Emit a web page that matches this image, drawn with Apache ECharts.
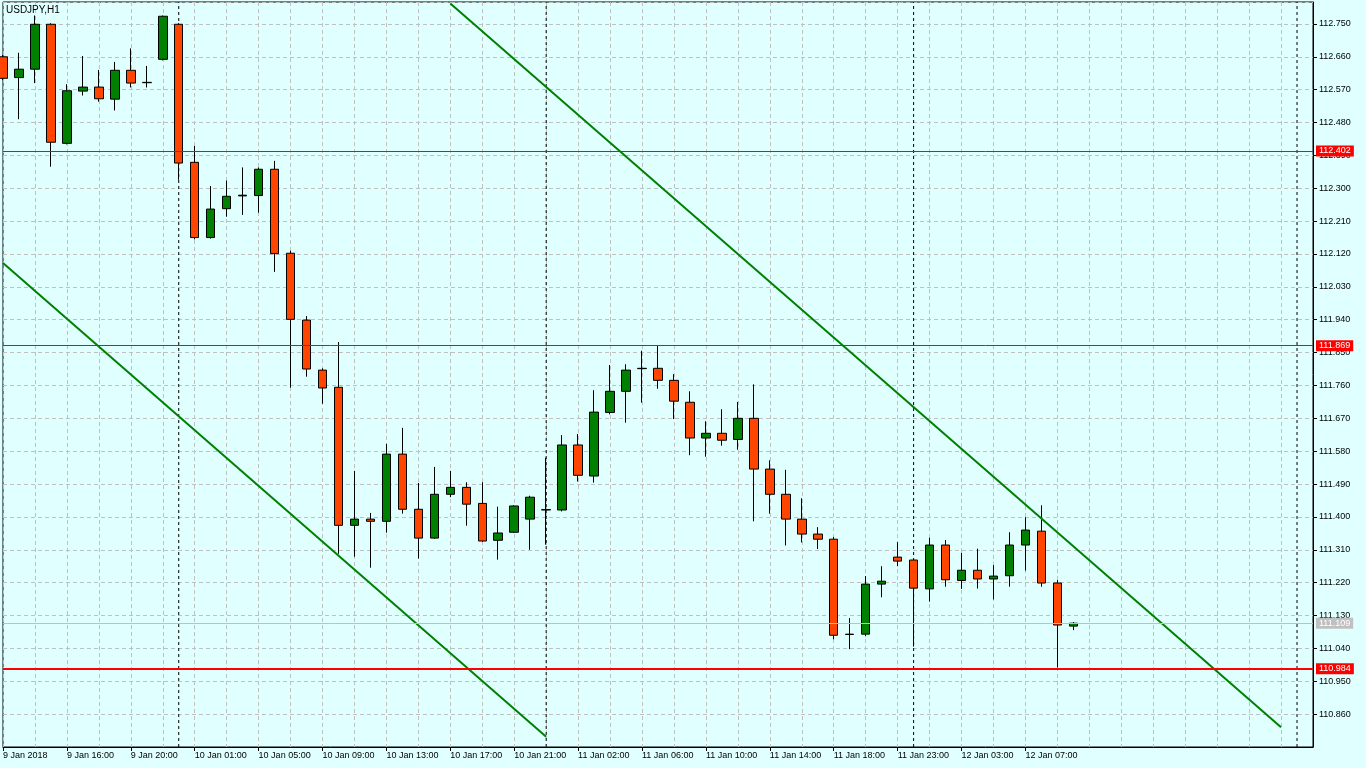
<!DOCTYPE html>
<html>
<head>
<meta charset="utf-8">
<script src="https://cdn.jsdelivr.net/npm/echarts@6.0.0/dist/echarts.min.js"></script>
<style>
html,body{margin:0;padding:0;background:#E0FFFF;}
#chart{width:1366px;height:768px;}
</style>
</head>
<body>
<div id="chart"></div>
<script>
// ---------- data ----------
const chartTitle = 'USDJPY,H1';
const tickLabels = ['9 Jan 2018','9 Jan 16:00','9 Jan 20:00','10 Jan 01:00','10 Jan 05:00','10 Jan 09:00','10 Jan 13:00','10 Jan 17:00','10 Jan 21:00','11 Jan 02:00','11 Jan 06:00','11 Jan 10:00','11 Jan 14:00','11 Jan 18:00','11 Jan 23:00','12 Jan 03:00','12 Jan 07:00'];
const barsPerTick = 4;
const totalSlots = 83; // visible bar slots incl. empty right margin
const opens = [112.660,112.603,112.626,112.749,112.423,112.566,112.577,112.544,112.623,112.590,
  112.653,112.749,112.371,112.165,112.244,112.279,112.280,112.352,112.122,111.939,
  111.802,111.755,111.377,111.394,111.388,111.572,111.421,111.342,111.462,111.481,
  111.437,111.336,111.358,111.394,111.420,111.419,111.597,111.512,111.686,111.744,
  111.806,111.807,111.774,111.714,111.616,111.629,111.612,111.670,111.531,111.462,
  111.394,111.353,111.339,111.078,111.079,111.216,111.290,111.282,111.203,111.323,
  111.226,111.254,111.230,111.239,111.323,111.361,111.219,111.101];
const highs = [112.665,112.671,112.773,112.752,112.585,112.662,112.624,112.646,112.683,112.635,
  112.773,112.752,112.416,112.306,112.321,112.357,112.357,112.375,112.129,111.950,
  111.807,111.879,111.526,111.411,111.600,111.644,111.493,111.537,111.526,111.495,
  111.495,111.428,111.432,111.458,111.562,111.624,111.627,111.747,111.816,111.818,
  111.855,111.869,111.791,111.744,111.662,111.695,111.715,111.763,111.555,111.529,
  111.451,111.372,111.345,111.123,111.238,111.265,111.331,111.284,111.343,111.337,
  111.302,111.313,111.268,111.358,111.399,111.432,111.227,111.112];
const lows = [112.596,112.489,112.588,112.359,112.420,112.554,112.537,112.513,112.576,112.576,
  112.650,112.323,112.160,112.162,112.222,112.227,112.233,112.071,111.754,111.784,
  111.710,111.299,111.291,111.261,111.357,111.409,111.286,111.340,111.454,111.376,
  111.332,111.283,111.356,111.310,111.324,111.415,111.497,111.494,111.681,111.658,
  111.713,111.751,111.668,111.569,111.565,111.595,111.584,111.388,111.409,111.322,
  111.330,111.312,111.065,111.038,111.073,111.180,111.265,111.045,111.168,111.209,
  111.203,111.204,111.174,111.209,111.253,111.209,110.988,111.090];
const closes = [112.601,112.626,112.749,112.426,112.567,112.577,112.545,112.623,112.588,112.589,
  112.771,112.369,112.165,112.243,112.278,112.281,112.352,112.121,111.941,111.805,
  111.753,111.377,111.394,111.388,111.572,111.421,111.342,111.462,111.481,111.435,
  111.334,111.356,111.430,111.454,111.419,111.597,111.514,111.687,111.744,111.802,
  111.807,111.774,111.717,111.616,111.629,111.610,111.670,111.531,111.462,111.394,
  111.353,111.339,111.076,111.079,111.216,111.224,111.279,111.205,111.323,111.228,
  111.254,111.230,111.238,111.323,111.364,111.219,111.104,111.109];
const daySeparators = [11, 34, 57, 81];
const levelLines = [112.402, 111.869, 110.984];
const bidPrice = 111.109;
const channelLower = [[0, 112.095], [34, 110.798]];
const channelUpper = [[28, 112.806], [80, 110.824]];
const yMin = 110.770, yMax = 112.810, yStep = 0.09;

// ---------- chart ----------
const FONT = 'Liberation Sans';
const categories = Array.from({length: totalSlots}, (_, i) => String(i));
const ohlc = opens.map((o, i) => [o, closes[i], lows[i], highs[i]]);
const tickShown = i => i % barsPerTick === 0 && (i / barsPerTick) < tickLabels.length;

const priceLabel = (val, bg) => ({
  show: true, position: 'end', distance: 3,
  formatter: () => val.toFixed(3),
  color: '#FFFFFF', backgroundColor: bg, fontFamily: FONT, fontSize: 9,
  lineHeight: 10, padding: [1, 3, 0, 3]
});

const levelData = [
  {yAxis: levelLines[0], lineStyle: {color: '#FF0000', width: 1, type: 'solid'}, label: priceLabel(levelLines[0], '#FF0000')},
  {yAxis: levelLines[1], lineStyle: {color: '#FF0000', width: 1, type: 'solid'}, label: priceLabel(levelLines[1], '#FF0000')},
  {yAxis: levelLines[2], lineStyle: {color: '#FF0000', width: 2, type: 'solid'}, label: priceLabel(levelLines[2], '#FF0000')},
  {yAxis: bidPrice, lineStyle: {color: '#C0C0C0', width: 1, type: 'solid'}, label: priceLabel(bidPrice, '#C0C0C0')}
];

const separatorSeries = daySeparators.map(x => ({
  type: 'line', data: [[x, yMin], [x, yMax]], symbol: 'none', silent: true, z: 1,
  lineStyle: {color: '#000000', width: 1, type: [3, 3]}
}));

const chart = echarts.init(document.getElementById('chart'), null, {renderer: 'canvas'});
chart.setOption({
  animation: false,
  backgroundColor: '#E0FFFF',
  title: {
    text: chartTitle, left: 6, top: 5, padding: 0,
    textStyle: {fontFamily: FONT, fontSize: 10, fontWeight: 'normal', color: '#000'}
  },
  grid: {
    left: 2, right: 53, top: 2, bottom: 21,
    show: true, backgroundColor: '#E0FFFF', borderColor: '#000', borderWidth: 1
  },
  xAxis: {
    type: 'category', data: categories, boundaryGap: false,
    axisLine: {show: true, lineStyle: {color: '#000', width: 1}},
    axisTick: {show: true, length: 4, interval: (i) => tickShown(i), lineStyle: {color: '#000'}},
    axisLabel: {
      show: true, interval: 0, align: 'left', margin: 4,
      formatter: (v, i) => tickShown(i) ? tickLabels[i / barsPerTick] : '',
      color: '#000', fontFamily: FONT, fontSize: 9
    },
    splitLine: {show: true, interval: 1, lineStyle: {color: '#C0C0C0', width: 1, type: [4, 3]}}
  },
  yAxis: {
    type: 'value', position: 'right', min: yMin, max: yMax, interval: yStep,
    axisLine: {show: true, lineStyle: {color: '#000', width: 1}},
    axisTick: {show: true, length: 4, lineStyle: {color: '#000'}},
    axisLabel: {
      formatter: v => v.toFixed(3), margin: 6, showMinLabel: false, showMaxLabel: false,
      color: '#000', fontFamily: FONT, fontSize: 9
    },
    splitLine: {show: true, lineStyle: {color: '#C0C0C0', width: 1, type: [4, 3]}}
  },
  series: separatorSeries.concat([
    {
      type: 'candlestick', data: ohlc, barWidth: 9, z: 2,
      itemStyle: {color: '#008000', color0: '#FF4500', borderColor: '#000', borderColor0: '#000', borderWidth: 1},
      markLine: {symbol: 'none', silent: true, animation: false, precision: 3, data: levelData}
    },
    {
      type: 'line', data: channelLower, symbol: 'none', silent: true, z: 3,
      lineStyle: {color: '#008000', width: 2}
    },
    {
      type: 'line', data: channelUpper, symbol: 'none', silent: true, z: 3,
      lineStyle: {color: '#008000', width: 2}
    }
  ])
});
</script>
</body>
</html>
